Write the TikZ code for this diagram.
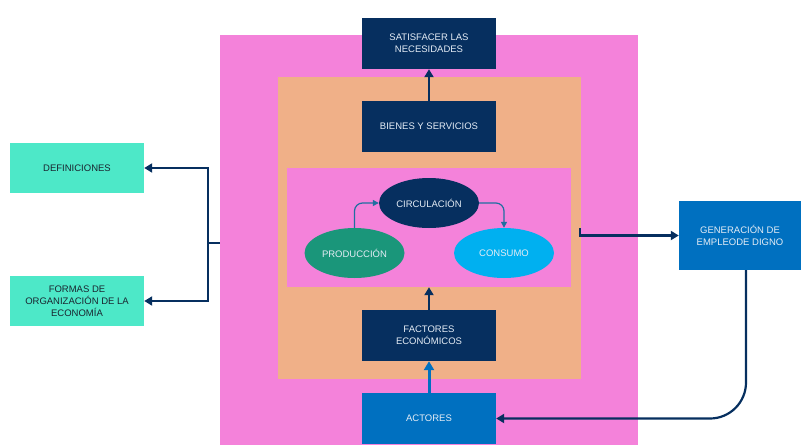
\documentclass[tikz,border=0pt]{standalone}
\usepackage{fontspec}
\setmainfont{Liberation Sans}
\usetikzlibrary{arrows.meta}
\usetikzlibrary{shapes.geometric}

\definecolor{outerpink}{HTML}{F482DA}
\definecolor{orangebg}{HTML}{F0B088}
\definecolor{navy}{HTML}{062F5F}
\definecolor{teal}{HTML}{4DE8C8}
\definecolor{green}{HTML}{1A967A}
\definecolor{cyan}{HTML}{00B0F0}
\definecolor{azul}{HTML}{0070C0}
\definecolor{lighttext}{HTML}{E4ECF5}
\definecolor{darktext}{HTML}{1A2530}
\definecolor{loopline}{HTML}{1F6FA0}

\begin{document}
\begin{tikzpicture}[x=1pt, y=-1pt,
    region/.style={fill=#1, inner sep=0pt},
    box/.style={fill=#1, text=lighttext, inner sep=0pt, minimum width=134pt,
        minimum height=51pt, align=center, font=\fontsize{9.5}{12}\selectfont},
    sidebox/.style={fill=teal, text=darktext, inner sep=0pt, minimum width=134pt,
        minimum height=50pt, align=center, font=\fontsize{9.5}{12}\selectfont},
    blob/.style={ellipse, fill=#1, text=lighttext, inner sep=0pt, minimum width=100pt,
        minimum height=50pt, font=\fontsize{9.5}{12}\selectfont},
    link/.style={line width=2.2pt, navy, -{Triangle[length=8pt,width=9pt]}},
    cycle/.style={line width=1.2pt, loopline, -{Triangle[length=6pt,width=6pt]}, rounded corners=8pt}]
    \useasboundingbox (0,0) rectangle (801,445);
    % background regions
    \node [region=outerpink, minimum width=418pt, minimum height=410pt] (outer) at (429, 240) {};
    \node [region=orangebg, minimum width=303pt, minimum height=302pt] (mid) at (429.5, 228) {};
    \node [region=outerpink, minimum width=284pt, minimum height=119pt] (inner) at (429, 227.5) {};
    % central column
    \node [box=navy] (need) at (429, 43.5) {SATISFACER LAS\\NECESIDADES};
    \node [box=navy] (goods) at (429, 126.5) {BIENES Y SERVICIOS};
    \node [box=navy] (factors) at (429, 335.5) {FACTORES\\ECON\'OMICOS};
    \node [box=azul] (actors) at (429, 418.5) {ACTORES};
    % cycle
    \node [blob=navy] (circ) at (429, 203) {CIRCULACI\'ON};
    \node [blob=green] (prod) at (354.5, 253) {PRODUCCI\'ON};
    \node [blob=cyan] (cons) at (504, 253) {CONSUMO};
    \draw [cycle] (prod.north) |- (circ.west);
    \draw [cycle] (circ.east) -| (cons.north);
    % left side
    \node [sidebox] (defs) at (77, 168) {DEFINICIONES};
    \node [sidebox] (forms) at (77, 301) {FORMAS DE\\ORGANIZACI\'ON DE LA\\ECONOM\'IA};
    \coordinate (fork) at (208, 243);
    \draw [line width=2.2pt, navy] (fork -| outer.west) -- (fork);
    \draw [link] (fork) |- (defs.east);
    \draw [link] (fork) |- (forms.east);
    % right side
    \node [box=azul, minimum width=122pt, minimum height=69pt] (jobs) at (740, 235.5) {GENERACI\'ON DE\\EMPLEODE DIGNO};
    \coordinate (exit) at (580, 228);
    \draw [link] (exit) |- (jobs.west);
    \draw [link, rounded corners=36pt] ([xshift=6pt]jobs.south) |- (actors.east);
    % upward arrows
    \draw [line width=3pt, azul, -{Triangle[length=9pt,width=10pt]}] (actors.north) -- (factors.south);
    \draw [link] (factors.north) -- (inner.south);
    \draw [link] (goods.north) -- (need.south);
\end{tikzpicture}
\end{document}
